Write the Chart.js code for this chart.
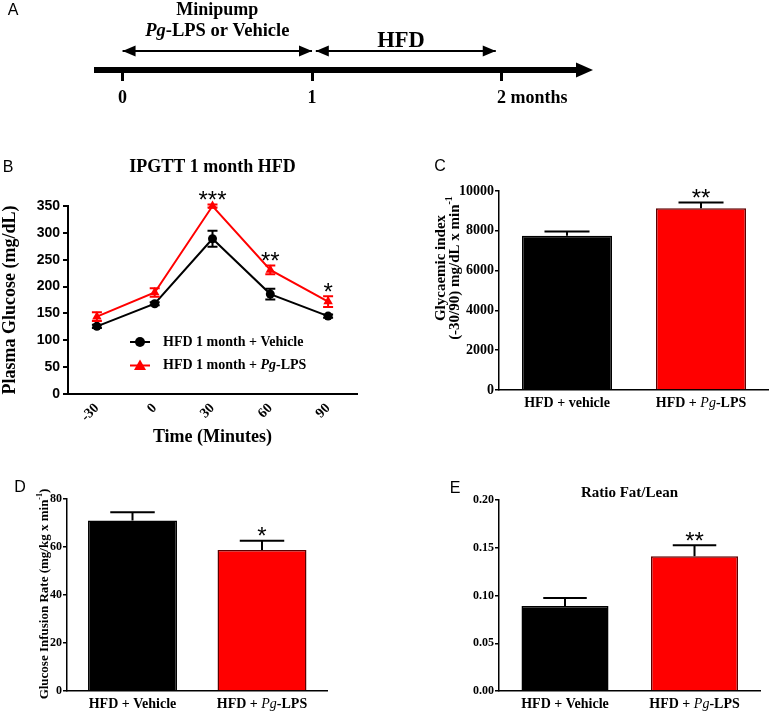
<!DOCTYPE html>
<html lang="en">
<head>
<meta charset="utf-8">
<title>Pg-LPS and high-fat diet</title>
<script src="https://cdn.jsdelivr.net/npm/chart.js@4.4.1/dist/chart.umd.min.js"></script>
<style>
  html, body { margin: 0; padding: 0; background: #fff; }
  #figure { position: relative; width: 770px; height: 712px; overflow: hidden; }
  .panel { position: absolute; }
</style>
</head>
<body>
<div id="figure">
  <div class="panel" style="left:0;top:0;width:620px;height:115px"><canvas id="panel-a"></canvas></div>
  <div class="panel" style="left:0;top:140px;width:430px;height:310px"><canvas id="panel-b"></canvas></div>
  <div class="panel" style="left:380px;top:140px;width:390px;height:300px"><canvas id="panel-c"></canvas></div>
  <div class="panel" style="left:0;top:460px;width:380px;height:252px"><canvas id="panel-d"></canvas></div>
  <div class="panel" style="left:380px;top:460px;width:390px;height:252px"><canvas id="panel-e"></canvas></div>
</div>
<script>
// timeline (months)
const timelineTicks = [0, 1, 2];
const timelineTickLabels = ['0', '1', '2'];
const timelineUnit = ' months';
const minipumpSpan = [0, 1];
const hfdSpan = [1.02, 1.97];
const arrowLevel = 0.27;

// IPGTT
const ipgttTimes = ['-30', '0', '30', '60', '90'];
const ipgttSeries = ['HFD 1 month + Vehicle', 'HFD 1 month + Pg-LPS'];
const vehicleGlucose = [126, 168, 289, 186, 145];
const vehicleSem = [3, 3, 15, 10, 3];
const lpsGlucose = [144, 189, 350, 231, 172];
const lpsSem = [8, 8, 3, 8, 10];
const ipgttStars = ['', '', '***', '**', '*'];

// glycaemic index
const giGroups = ['HFD + vehicle', 'HFD + Pg-LPS'];
const giValues = [7750, 9130];
const giSem = [220, 290];
const giStars = ['', '**'];

// glucose infusion rate
const girGroups = ['HFD + Vehicle', 'HFD + Pg-LPS'];
const girValues = [71, 58.8];
const girSem = [3.5, 3.8];
const girStars = ['', '*'];

// fat / lean
const fatGroups = ['HFD + Vehicle', 'HFD + Pg-LPS'];
const fatValues = [0.089, 0.141];
const fatSem = [0.0085, 0.0115];
const fatStars = ['', '**'];

const SERIF = '"Liberation Serif", "Times New Roman", serif';
const SANS = '"Liberation Sans", Arial, sans-serif';
const RED = '#ff0000';
const RED_EDGE = '#5c0000';

function fontStr(size, o = {}) {
  return `${o.italic ? 'italic ' : ''}${o.normal ? 'normal' : 'bold'} ${size}px ${o.family || SERIF}`;
}

// split "Pg" out so it can be set in italics
function pgParts(text, bold) {
  return text.split(/(Pg)/).filter(Boolean).map(t => ({ t, i: t === 'Pg', n: t === 'Pg' && !bold }));
}

function drawRich(ctx, parts, x, y, size, align = 'center', angle = 0) {
  ctx.save();
  ctx.translate(x, y);
  ctx.rotate(angle);
  ctx.fillStyle = '#000';
  ctx.textAlign = 'left';
  ctx.textBaseline = 'middle';
  const f = p => fontStr(p.sup ? Math.round(size * 0.65) : size, { italic: p.i, normal: p.n });
  let w = 0;
  parts.forEach(p => { ctx.font = f(p); w += ctx.measureText(p.t).width; });
  let cx = align === 'center' ? -w / 2 : align === 'right' ? -w : 0;
  parts.forEach(p => {
    ctx.font = f(p);
    ctx.fillText(p.t, cx, p.sup ? -size * 0.38 : 0);
    cx += ctx.measureText(p.t).width;
  });
  ctx.restore();
}

function panelLetter(ctx, letter, x, y) {
  ctx.save();
  ctx.font = `16px ${SANS}`;
  ctx.fillStyle = '#000';
  ctx.textAlign = 'center';
  ctx.textBaseline = 'middle';
  ctx.fillText(letter, x, y);
  ctx.restore();
}

function drawStars(ctx, text, x, glyphY) {
  ctx.save();
  ctx.font = `24px ${SANS}`;
  ctx.fillStyle = '#000';
  ctx.textAlign = 'center';
  ctx.textBaseline = 'alphabetic';
  ctx.fillText(text, x, glyphY + 24 * 0.57);
  ctx.restore();
}

function arrowHead(ctx, tipX, tipY, dir, len, half) {
  ctx.beginPath();
  ctx.moveTo(tipX, tipY);
  ctx.lineTo(tipX - dir * len, tipY - half);
  ctx.lineTo(tipX - dir * len, tipY + half);
  ctx.closePath();
  ctx.fill();
}

const base = {
  responsive: true,
  maintainAspectRatio: false,
  animation: false,
  events: []
};

// ---------- A: timeline ----------
new Chart(document.getElementById('panel-a'), {
  type: 'line',
  data: {
    datasets: [minipumpSpan, hfdSpan].map(span => ({
      data: span.map(x => ({ x, y: arrowLevel })),
      borderColor: '#000',
      borderWidth: 2,
      pointRadius: 0
    }))
  },
  options: {
    ...base,
    layout: { padding: { left: 97, right: 42, top: 0, bottom: 0 } },
    plugins: { legend: { display: false }, tooltip: { enabled: false } },
    scales: {
      x: {
        type: 'linear', min: -0.135, max: 2.404, offset: false,
        afterBuildTicks: s => { s.ticks = timelineTicks.map(value => ({ value })); },
        afterFit: s => { s.height = 45; },
        ticks: { display: false },
        grid: { drawOnChartArea: false, drawTicks: true, tickLength: 11, lineWidth: 3, color: '#000' },
        border: { color: '#000', width: 6 }
      },
      y: { display: false, min: 0, max: 1 }
    }
  },
  plugins: [{
    id: 'timeline',
    afterDraw(chart) {
      const { ctx, chartArea: area } = chart;
      const x = chart.scales.x, y = chart.scales.y;
      ctx.save();
      ctx.fillStyle = '#000';
      arrowHead(ctx, area.right + 15, area.bottom, 1, 17, 7.5);
      const ay = y.getPixelForValue(arrowLevel);
      [minipumpSpan, hfdSpan].forEach(span => {
        arrowHead(ctx, x.getPixelForValue(span[0]), ay, -1, 13, 5.5);
        arrowHead(ctx, x.getPixelForValue(span[1]), ay, 1, 13, 5.5);
      });
      ctx.restore();

      timelineTicks.forEach((t, i) => {
        const px = x.getPixelForValue(t);
        drawRich(ctx, [{ t: timelineTickLabels[i] }], px, 98, 18);
        if (i === timelineTicks.length - 1) {
          ctx.save();
          ctx.font = fontStr(18);
          const w = ctx.measureText(timelineTickLabels[i]).width;
          ctx.restore();
          drawRich(ctx, [{ t: timelineUnit }], px + w / 2, 98, 18, 'left');
        }
      });

      const mid = x.getPixelForValue(0.5);
      drawRich(ctx, [{ t: 'Minipump' }], mid, 10, 18);
      drawRich(ctx, pgParts('Pg-LPS or Vehicle', true).map(p => ({ ...p, n: false })), mid, 31, 18.5);
      drawRich(ctx, [{ t: 'HFD' }], x.getPixelForValue(1.47), 41, 22.5);
      panelLetter(ctx, 'A', 13, 11);
    }
  }]
});

// ---------- B: IPGTT ----------
function drawSymErrors(chart, dsIndex, sem, color) {
  const ctx = chart.ctx, y = chart.scales.y;
  const vals = chart.data.datasets[dsIndex].data;
  ctx.save();
  ctx.strokeStyle = color;
  ctx.lineWidth = 2;
  chart.getDatasetMeta(dsIndex).data.forEach((pt, i) => {
    const hi = y.getPixelForValue(vals[i] + sem[i]);
    const lo = y.getPixelForValue(vals[i] - sem[i]);
    ctx.beginPath();
    ctx.moveTo(pt.x, hi); ctx.lineTo(pt.x, lo);
    ctx.moveTo(pt.x - 5, hi); ctx.lineTo(pt.x + 5, hi);
    ctx.moveTo(pt.x - 5, lo); ctx.lineTo(pt.x + 5, lo);
    ctx.stroke();
  });
  ctx.restore();
}

new Chart(document.getElementById('panel-b'), {
  type: 'line',
  data: {
    labels: ipgttTimes,
    datasets: [
      {
        label: ipgttSeries[0], data: vehicleGlucose,
        borderColor: '#000', backgroundColor: '#000', borderWidth: 2,
        pointStyle: 'circle', pointRadius: 4.5, pointBorderWidth: 0, tension: 0, clip: false
      },
      {
        label: ipgttSeries[1], data: lpsGlucose,
        borderColor: RED, backgroundColor: RED, borderWidth: 2,
        pointStyle: 'triangle', pointRadius: 5.5, pointBorderWidth: 0, tension: 0, clip: false
      }
    ]
  },
  options: {
    ...base,
    layout: { padding: { left: 0, right: 73, top: 66, bottom: 0 } },
    plugins: { legend: { display: false }, tooltip: { enabled: false } },
    scales: {
      x: {
        type: 'category', offset: true,
        afterFit: s => { s.height = 56; },
        grid: { display: false, drawTicks: false },
        border: { color: '#000', width: 2 },
        ticks: { minRotation: 45, maxRotation: 45, padding: 6, color: '#000', font: { family: SERIF, weight: 'bold', size: 14 } },
        title: { display: true, text: 'Time (Minutes)', color: '#000', font: { family: SERIF, weight: 'bold', size: 18 }, padding: { top: 0, bottom: 2 } }
      },
      y: {
        min: 0, max: 350,
        afterFit: s => { s.width = 68; },
        ticks: { stepSize: 50, padding: 3, color: '#000', font: { family: SANS, weight: 'bold', size: 14 } },
        grid: { drawOnChartArea: false, tickLength: 5, lineWidth: 2, color: '#000' },
        border: { color: '#000', width: 2 },
        title: { display: true, text: 'Plasma Glucose (mg/dL)', color: '#000', font: { family: SERIF, weight: 'bold', size: 18 }, padding: { top: 0, bottom: 0 } }
      }
    }
  },
  plugins: [{
    id: 'ipgtt',
    afterDatasetsDraw(chart) {
      drawSymErrors(chart, 0, vehicleSem, '#000');
      drawSymErrors(chart, 1, lpsSem, RED);
    },
    afterDraw(chart) {
      const { ctx, chartArea: area } = chart;
      const y = chart.scales.y;
      panelLetter(ctx, 'B', 8, 28);
      drawRich(ctx, [{ t: 'IPGTT 1 month HFD' }], (area.left + area.right) / 2, 27, 18);

      const meta = chart.getDatasetMeta(1);
      ipgttStars.forEach((s, i) => {
        if (!s) return;
        drawStars(ctx, s, meta.data[i].x, y.getPixelForValue(lpsGlucose[i] + lpsSem[i]) - 10);
      });

      // legend inside the plot
      const lx = area.left + 62, ly = area.top + 136;
      chart.data.datasets.forEach((ds, k) => {
        const yy = ly + k * 23.5;
        ctx.save();
        ctx.strokeStyle = ds.borderColor;
        ctx.fillStyle = ds.backgroundColor;
        ctx.lineWidth = 2;
        ctx.beginPath(); ctx.moveTo(lx, yy); ctx.lineTo(lx + 20, yy); ctx.stroke();
        ctx.beginPath();
        if (ds.pointStyle === 'circle') {
          ctx.arc(lx + 10, yy, 5, 0, Math.PI * 2);
        } else {
          ctx.moveTo(lx + 10, yy - 6); ctx.lineTo(lx + 16, yy + 4.5); ctx.lineTo(lx + 4, yy + 4.5); ctx.closePath();
        }
        ctx.fill();
        ctx.restore();
        drawRich(ctx, pgParts(ds.label, true).map(p => ({ ...p, n: false })), lx + 33, yy, 14, 'left');
      });
    }
  }]
});

// ---------- C, D, E: bar panels ----------
function drawBarErrors(chart, sem, stars) {
  const ctx = chart.ctx, y = chart.scales.y;
  const data = chart.data.datasets[0].data;
  ctx.save();
  ctx.strokeStyle = '#000';
  ctx.lineWidth = 2;
  chart.getDatasetMeta(0).data.forEach((bar, i) => {
    const top = y.getPixelForValue(data[i].y + sem[i]);
    const half = bar.width / 4;
    ctx.beginPath();
    ctx.moveTo(bar.x, bar.y); ctx.lineTo(bar.x, top);
    ctx.moveTo(bar.x - half, top); ctx.lineTo(bar.x + half, top);
    ctx.stroke();
    if (stars[i]) drawStars(ctx, stars[i], bar.x, top - 10);
  });
  ctx.restore();
}

function barChart(id, c) {
  return new Chart(document.getElementById(id), {
    type: 'bar',
    data: {
      datasets: [{
        data: c.values.map((v, i) => ({ x: i + 1, y: v })),
        backgroundColor: ['#000', RED],
        borderColor: ['#000', RED_EDGE],
        borderWidth: 1.5,
        barPercentage: c.barPct,
        categoryPercentage: 1
      }]
    },
    options: {
      ...base,
      layout: { padding: { left: 0, right: c.padRight, top: c.padTop, bottom: 0 } },
      plugins: { legend: { display: false }, tooltip: { enabled: false } },
      scales: {
        x: {
          type: 'linear', min: c.xMin, max: c.xMax, offset: false,
          afterBuildTicks: s => { s.ticks = c.values.map((_, i) => ({ value: i + 1 })); },
          afterFit: s => { s.height = c.xHeight; },
          ticks: { display: false },
          grid: { display: false, drawTicks: false },
          border: { color: '#000', width: 1.5 }
        },
        y: {
          min: 0, max: c.yMax,
          afterFit: s => { s.width = c.yWidth; },
          ticks: { stepSize: c.yStep, padding: 1, color: '#000', font: { family: SERIF, weight: 'bold', size: c.tickSize }, callback: c.fmt },
          grid: { drawOnChartArea: false, tickLength: 4, lineWidth: 1.5, color: '#000' },
          border: { color: '#000', width: 1.5 }
        }
      }
    },
    plugins: [{
      id: id + '-decor',
      afterDatasetsDraw(chart) {
        drawBarErrors(chart, c.sem, c.stars);
        const x = chart.scales.x;
        c.groups.forEach((g, i) => drawRich(chart.ctx, pgParts(g, false), x.getPixelForValue(i + 1), c.labelY, 14));
        c.decor(chart);
      }
    }]
  });
}

barChart('panel-c', {
  values: giValues, sem: giSem, stars: giStars, groups: giGroups,
  yMax: 10000, yStep: 2000, tickSize: 14, fmt: v => String(v),
  xMin: 0.4925, xMax: 2.4999, barPct: 0.672,
  padTop: 51, padRight: 2, yWidth: 119, xHeight: 50, labelY: 263,
  decor(chart) {
    const ctx = chart.ctx;
    panelLetter(ctx, 'C', 60, 27);
    drawRich(ctx, [{ t: 'Glycaemic index' }], 61, 128, 15, 'center', -Math.PI / 2);
    drawRich(ctx, [{ t: '(-30/90) mg/dL x min' }, { t: '-1', sup: true }], 75, 128, 15, 'center', -Math.PI / 2);
  }
});

barChart('panel-d', {
  values: girValues, sem: girSem, stars: girStars, groups: girGroups,
  yMax: 80, yStep: 20, tickSize: 12, fmt: v => String(v),
  xMin: 0.4942, xMax: 2.5019, barPct: 0.687,
  padTop: 39, padRight: 53, yWidth: 67, xHeight: 21, labelY: 244,
  decor(chart) {
    const ctx = chart.ctx;
    panelLetter(ctx, 'D', 20, 28);
    drawRich(ctx, [{ t: 'Glucose Infusion Rate (mg/kg x min' }, { t: '-1', sup: true }, { t: ')' }], 45, 134, 13, 'center', -Math.PI / 2);
  }
});

barChart('panel-e', {
  values: fatValues, sem: fatSem, stars: fatStars, groups: fatGroups,
  yMax: 0.2, yStep: 0.05, tickSize: 12, fmt: v => v.toFixed(2),
  xMin: 0.4903, xMax: 2.5057, barPct: 0.672,
  padTop: 40, padRight: 10, yWidth: 119, xHeight: 21, labelY: 244,
  decor(chart) {
    const ctx = chart.ctx, area = chart.chartArea;
    panelLetter(ctx, 'E', 75, 29);
    drawRich(ctx, [{ t: 'Ratio Fat/Lean' }], (area.left + area.right) / 2, 33, 15);
  }
});
</script>
</body>
</html>
